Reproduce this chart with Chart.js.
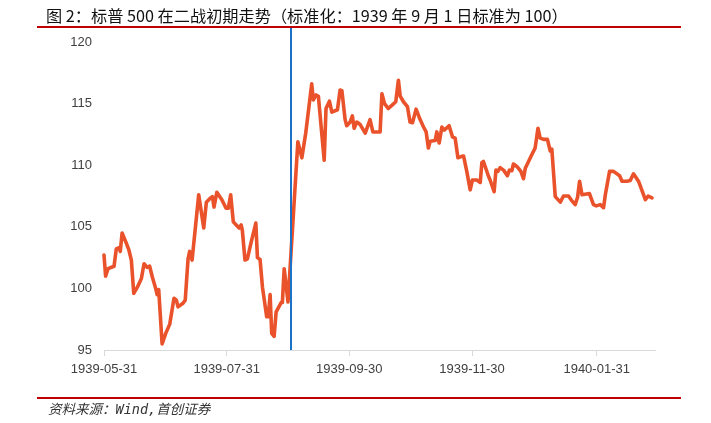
<!DOCTYPE html>
<html><head><meta charset="utf-8">
<script src="https://cdn.jsdelivr.net/npm/chart.js@4/dist/chart.umd.min.js"></script>
<style>
html,body{margin:0;padding:0;background:#fff;width:711px;height:423px;overflow:hidden;}
#wrap{position:relative;width:711px;height:423px;}
#c{position:absolute;left:0;top:0;}
.title{position:absolute;left:46px;top:4px;font:16.2px "Noto Sans CJK SC","Noto Sans",sans-serif;color:#111;white-space:nowrap;line-height:22px;}
.rule{position:absolute;left:37px;width:644px;height:2px;background:#c00000;}
.src{position:absolute;left:48px;top:400px;font:italic 13.5px "DejaVu Sans Mono","Noto Sans CJK SC",monospace;color:#333;white-space:nowrap;line-height:18px;}
</style></head>
<body><div id="wrap">
<canvas id="c" width="711" height="423"></canvas>
<div class="title">图 2：标普 500 在二战初期走势（标准化：1939 年 9 月 1 日标准为 100）</div>
<div class="rule" style="top:26px"></div>
<div class="rule" style="top:397px"></div>
<div class="src">资料来源：Wind,首创证券</div>
</div>
<script>
// days since 1939-05-31
const days = [0,0.8,2.0,5.0,6.1,7.5,8.1,9.0,10.8,12.4,13.6,14.8,16.6,18.6,19.9,21.4,22.7,24.0,25.7,26.4,27.2,28.9,30.7,32.7,34.8,36.0,36.8,39.3,40.4,41.8,42.6,43.8,47.1,49.6,50.9,
52.7,53.9,54.7,56.1,58.6,60.7,61.8,63.0,64.3,66.0,67.2,68.2,68.8,70.1,71.3,73.1,75.5,76.3,77.6,78.8,80.9,81.7,82.6,83.4,84.6,85.6,88.1,88.7,89.6,91.5,
96.4,98.4,100.3,103.3,104.1,105.5,106.6,109.5,110.4,112.1,113.3,116.1,117.4,118.3,119.9,120.7,122.4,123.5,124.4,125.7,127.4,129.9,132.3,133.7,137.3,138.2,
139.5,141.4,143.4,145.1,146.4,147.3,148.9,150.9,152.2,153.4,155.2,157.2,158.9,160.2,161.3,162.2,164.7,165.5,166.7,168.0,169.2,171.6,173.3,174.6,176.0,177.6,178.8,180.4,182.1,183.2,185.4,187.1,187.9,188.7,191.2,192.0,194.0,
194.9,195.9,197.0,198.7,200.6,201.6,202.8,203.6,205.3,207.3,208.6,209.5,212.3,214.4,215.8,216.9,218.6,220.5,221.9,222.7,224.4,226.9,228.5,231.0,232.7,234.3,235.5,236.5,237.7,241.4,243.4,244.8,246.8,248.4,249.3,251.4,253.4,256.4,257.6,260.0,261.7,263.3,265.8,269.2,270.6,272.5];
const values = [102.7,101.0,101.6,101.8,103.2,103.3,103.0,104.5,103.8,103.1,102.3,99.6,100.1,100.8,102.0,101.7,101.8,100.95,100.0,99.5,99.9,95.5,96.35,97.1,99.2,99.05,98.5,98.8,99.05,102.4,103.0,102.3,107.6,104.9,107.0,
107.3,107.45,106.6,107.8,107.2,106.5,106.5,107.6,105.4,105.1,104.9,105.15,104.7,102.3,102.4,103.7,105.3,102.5,102.35,100.1,97.7,97.7,99.5,96.35,96.1,98.1,98.85,98.85,101.6,98.9,
111.9,110.6,112.6,116.6,115.3,115.7,115.6,110.4,114.6,115.2,114.3,114.5,116.1,116.05,113.7,113.2,113.5,114.0,113.0,113.5,113.3,112.6,113.7,112.7,112.7,115.8,
115.0,114.6,114.9,115.15,116.9,115.6,115.15,114.75,113.5,113.45,114.55,113.7,113.1,112.7,111.4,111.95,112.0,112.7,111.8,113.1,112.85,113.2,112.3,112.2,110.6,110.7,110.75,109.5,108.0,108.8,108.8,108.6,110.2,110.3,109.1,108.8,107.85,
109.6,109.5,109.8,109.6,109.15,109.6,109.55,110.1,109.9,109.5,108.9,109.75,110.7,111.4,113.0,112.2,112.1,112.1,111.15,111.3,107.45,107.0,107.5,107.5,107.1,106.8,107.4,108.7,107.6,107.7,106.8,106.7,106.8,106.55,107.6,109.5,109.5,109.15,108.7,108.7,108.75,109.3,108.7,107.2,107.5,107.35];
const tickDays = [0,61,122,183,245];
const tickLabels = ['1939-05-31','1939-07-31','1939-09-30','1939-11-30','1940-01-31'];
const markerDay = 93; // 1939-09-01
const yTicks = [95,100,105,110,115,120];

const points = days.map((d,i)=>({x:d,y:values[i]}));

const markerPlugin = {
  id:'marker',
  afterDatasetsDraw(chart){
    const ctx = chart.ctx, xs = chart.scales.x;
    const px = Math.round(xs.getPixelForValue(markerDay));
    ctx.save();
    ctx.strokeStyle = '#1a73c8';
    ctx.lineWidth = 2;
    ctx.beginPath();
    ctx.moveTo(px, 28);
    ctx.lineTo(px, chart.chartArea.bottom);
    ctx.stroke();
    ctx.restore();
  }
};

new Chart(document.getElementById('c'), {
  type:'line',
  data:{datasets:[{data:points,borderColor:'#e9522a',borderWidth:3.6,pointRadius:0,tension:0,borderJoinStyle:'round',borderCapStyle:'round',clip:false}]},
  options:{
    responsive:false,animation:false,
    layout:{padding:{left:0,right:56,top:42,bottom:40}},
    plugins:{legend:{display:false},tooltip:{enabled:false}},
    scales:{
      x:{type:'linear',min:0,max:274,
        afterBuildTicks(s){s.ticks = tickDays.map(v=>({value:v}));},
        afterFit(s){s.height = 33;},
        grid:{display:true,drawOnChartArea:false,drawTicks:true,tickLength:6,color:'#d9d9d9'},
        border:{display:true,color:'#d9d9d9',width:1},
        ticks:{autoSkip:false,maxRotation:0,padding:6,color:'#404040',font:{family:'"Liberation Sans",Arial,sans-serif',size:13}},
      },
      y:{min:95,max:120,
        afterBuildTicks(s){s.ticks = yTicks.map(v=>({value:v}));},
        afterFit(s){s.width = 104;},
        grid:{display:false,drawTicks:false},
        border:{display:false},
        ticks:{padding:12,color:'#404040',font:{family:'"Liberation Sans",Arial,sans-serif',size:13}}
      }
    }
  },
  plugins:[markerPlugin]
});
// tick label mapping
Chart.getChart('c').options.scales.x.ticks.callback = function(v){const i=tickDays.indexOf(v);return i>=0?tickLabels[i]:'';};
Chart.getChart('c').update();
</script>
</body></html>
